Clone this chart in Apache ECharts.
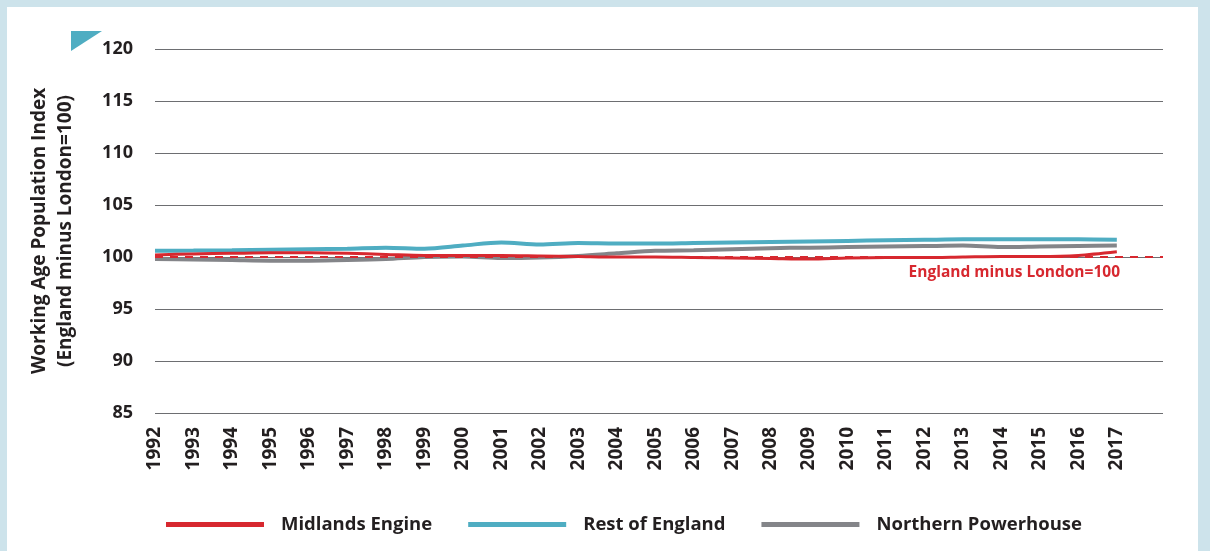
<!DOCTYPE html>
<html>
<head>
<meta charset="utf-8">
<script src="https://cdn.jsdelivr.net/npm/echarts@6/dist/echarts.min.js"></script>
<style>
html,body{margin:0;padding:0;background:#cde3eb;}
#wrap{position:absolute;left:7px;top:7px;width:1191px;height:544px;background:#fff;}
#chart{position:absolute;left:-7px;top:-7px;width:1210px;height:551px;}
</style>
</head>
<body>
<div id="wrap"><div id="chart"></div></div>
<script>
var years = [1992,1993,1994,1995,1996,1997,1998,1999,2000,2001,2002,2003,2004,2005,2006,2007,2008,2009,2010,2011,2012,2013,2014,2015,2016,2017];
var midlandsEngine = [100.2,100.3,100.35,100.4,100.4,100.35,100.25,100.15,100.15,100.15,100.1,100.05,100.0,100.0,99.95,99.9,99.85,99.8,99.9,99.95,99.95,100.0,100.05,100.05,100.15,100.5];
var restOfEngland = [100.6,100.62,100.65,100.7,100.75,100.8,100.9,100.8,101.1,101.4,101.2,101.35,101.3,101.3,101.35,101.4,101.45,101.5,101.55,101.6,101.65,101.7,101.7,101.7,101.7,101.65];
var northernPowerhouse = [99.8,99.75,99.7,99.65,99.65,99.7,99.8,100.0,100.05,99.9,99.95,100.1,100.35,100.6,100.65,100.75,100.85,100.9,100.95,101.0,101.05,101.1,100.95,101.0,101.05,101.1];
var yTicks = {min:85, max:120, interval:5};
var baseline = 100;

function pairs(vals){ return years.map(function(y,i){ return [y, vals[i]]; }); }

var chart = echarts.init(document.getElementById('chart'), null, {renderer:'canvas'});
var font = '"Open Sans", "Noto Sans", sans-serif';
chart.setOption({
  backgroundColor: 'transparent',
  animation: false,
  grid: {left:155, right:47, top:49, bottom:138},
  xAxis: {
    type:'value', min:1992, max:2018.2, interval:1,
    axisLine:{show:false}, axisTick:{show:false}, splitLine:{show:false},
    axisLabel:{
      rotate:90, margin:14, showMaxLabel:false,
      color:'#231f20', fontFamily:font, fontWeight:'bold', fontSize:19,
      formatter:function(v){ return v<=2017 ? String(v) : ''; }
    }
  },
  yAxis: {
    type:'value', min:yTicks.min, max:yTicks.max, interval:yTicks.interval,
    name:'Working Age Population Index\n(England minus London=100)',
    nameLocation:'middle', nameGap:76, nameRotate:90,
    nameTextStyle:{color:'#231f20', fontFamily:font, fontWeight:'bold', fontSize:19, lineHeight:26},
    axisLine:{show:false}, axisTick:{show:false},
    splitLine:{lineStyle:{color:'#6d6e71', width:1}},
    axisLabel:{margin:22, color:'#231f20', fontFamily:font, fontWeight:'bold', fontSize:18}
  },
  legend: {
    left:161, top:510, itemWidth:98, itemHeight:5, itemGap:36, icon:'rect',
    textStyle:{color:'#231f20', fontFamily:font, fontWeight:'bold', fontSize:18.5, padding:[0,0,0,12]},
    data:['Midlands Engine','Rest of England','Northern Powerhouse']
  },
  series: [
    {name:'Midlands Engine', type:'line', data:pairs(midlandsEngine), showSymbol:false, smooth:0.3, z:4,
      lineStyle:{color:'#d7282f', width:3}, itemStyle:{color:'#d7282f'},
      markLine:{silent:true, symbol:'none', label:{show:false},
        lineStyle:{color:'#d7282f', type:[8,7], width:2},
        data:[{yAxis:baseline}]}},
    {name:'Rest of England', type:'line', data:pairs(restOfEngland), showSymbol:false, smooth:0.3, z:3,
      lineStyle:{color:'#4fadc2', width:4}, itemStyle:{color:'#4fadc2'}},
    {name:'Northern Powerhouse', type:'line', data:pairs(northernPowerhouse), showSymbol:false, smooth:0.3, z:2,
      lineStyle:{color:'#848589', width:4}, itemStyle:{color:'#848589'}}
  ],
  graphic: [
    {type:'polygon', shape:{points:[[71,31],[102,31],[71,51]]}, style:{fill:'#4fadc2'}},
    {type:'text', right:90, top:265, style:{text:'England minus London=100', fill:'#d7282f', font:'bold 15.5px '+font, textAlign:'right'}}
  ]
});
</script>
</body>
</html>
